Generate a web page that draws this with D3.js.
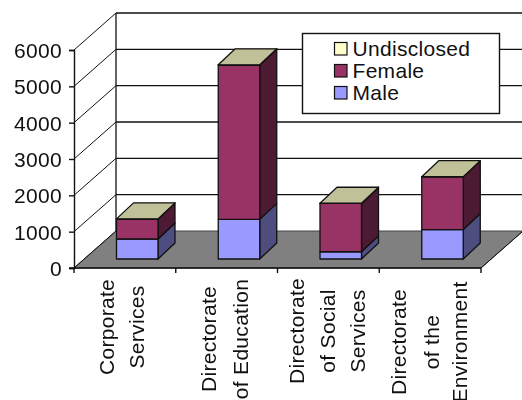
<!DOCTYPE html>
<html>
<head>
<meta charset="utf-8">
<script src="https://cdn.jsdelivr.net/npm/d3@7"></script>
<style>
html,body{margin:0;padding:0;background:#fff;overflow:hidden}
svg{display:block;filter:blur(0.45px)}
text{font-family:"Liberation Sans",Arial,sans-serif;fill:#111;letter-spacing:0.3px}
</style>
</head>
<body>
<svg id="c" width="522" height="400"></svg>
<script>
const categories = ["Corporate Services","Directorate of Education","Directorate of Social Services","Directorate of the Environment"];
const categoryLines = [["Corporate","Services"],["Directorate","of Education"],["Directorate","of Social","Services"],["Directorate","of the","Environment"]];
const maleValues = [550,1090,200,810];
const femaleValues = [550,4250,1330,1450];
const undisclosedValues = [5,5,5,5];
const yTicks = [0,1000,2000,3000,4000,5000,6000];
const legendLabels = ["Undisclosed","Female","Male"];
const seriesColors = {Male:"#9999ff",Female:"#993366",Undisclosed:"#ffffcc"};
const sideColors = {Male:"#4d4d80",Female:"#4d1a33",Undisclosed:"#808066"};
const topColors = {Male:"#7a7acc",Female:"#7a2952",Undisclosed:"#c0c099"};

const svg = d3.select("#c");
const y = d3.scaleLinear().domain([0,6000]).range([268,50]);
const x = d3.scaleBand().domain(categories).range([74,481]);
const wallDx = 42, wallDy = -37;
const barDx = 17, barDy = -16, barInset = 42.5, barW = 41.5, barLift = 9;
const line = "#111";

// floor
const fl = [[74,y(0)],[481,y(0)],[481+wallDx,y(0)+wallDy],[74+wallDx,y(0)+wallDy]];
svg.append("polygon").attr("points",fl.join(" ")).attr("fill","#808080").attr("stroke","#444").attr("stroke-width",1);

// back wall gridlines and side wall diagonals
const grid = svg.append("g").attr("fill","none").attr("stroke",line).attr("stroke-width",1.3);
yTicks.forEach(t=>{
  const yy=y(t);
  if(t>0) grid.append("line").attr("x1",74+wallDx).attr("x2",481+wallDx).attr("y1",yy+wallDy).attr("y2",yy+wallDy);
  grid.append("line").attr("x1",74).attr("y1",yy).attr("x2",74+wallDx).attr("y2",yy+wallDy).attr("stroke-width",1);
});
grid.append("line").attr("x1",74+wallDx).attr("x2",74+wallDx).attr("y1",y(6000)+wallDy).attr("y2",y(0)+wallDy);
grid.append("line").attr("x1",481).attr("y1",y(0)).attr("x2",481+wallDx).attr("y2",y(0)+wallDy).attr("stroke-width",1);

// axes
const yAxis = d3.axisLeft(y).tickValues(yTicks).tickSize(5).tickPadding(7).tickFormat(d3.format("d"));
const gy = svg.append("g").attr("transform","translate(74,0)").call(yAxis);
gy.selectAll("text").style("font-size","21px").attr("dy","0.36em");
gy.selectAll("path,line").attr("stroke",line).attr("stroke-width",1.4);

const xTickPos = d3.range(categories.length+1).map(i=>74+i*x.step());
const gx = svg.append("g").attr("stroke",line).attr("stroke-width",1.4);
gx.append("line").attr("x1",69).attr("x2",481).attr("y1",y(0)).attr("y2",y(0));
xTickPos.forEach(p=>gx.append("line").attr("x1",p).attr("x2",p).attr("y1",y(0)).attr("y2",y(0)+5));

// stacked bars
const keys = ["Male","Female","Undisclosed"];
const rows = categories.map((c,i)=>({cat:c,Male:maleValues[i],Female:femaleValues[i],Undisclosed:undisclosedValues[i]}));
const stacked = d3.stack().keys(keys)(rows);
const bars = svg.append("g").attr("stroke","#111").attr("stroke-width",1.3).attr("stroke-linejoin","round");
stacked.forEach(s=>{
  s.forEach(d=>{
    const c=d.data.cat, x0=x(c)+barInset, x1=x0+barW;
    const y0=y(d[0])-barLift, y1=y(d[1])-barLift;
    bars.append("polygon").attr("points",[[x1,y0],[x1+barDx,y0+barDy],[x1+barDx,y1+barDy],[x1,y1]].join(" ")).attr("fill",sideColors[s.key]);
    bars.append("rect").attr("x",x0).attr("y",y1).attr("width",barW).attr("height",y0-y1).attr("fill",seriesColors[s.key]);
    if(s.key==="Undisclosed"){
      bars.append("polygon").attr("points",[[x0,y1],[x1,y1],[x1+barDx,y1+barDy],[x0+barDx,y1+barDy]].join(" ")).attr("fill",topColors.Undisclosed);
    }
  });
});

// category labels
categories.forEach((c,i)=>{
  const lines=categoryLines[i];
  const cy=[327,339,331,342][i];
  const xs=[[107,137],[209,241],[297,328,358],[399,432,460]][i];
  lines.forEach((t,j)=>{
    svg.append("text").attr("transform",`translate(${xs[j]},${cy}) rotate(-90)`)
      .attr("text-anchor","middle").attr("dy","0.35em").style("font-size","21px").text(t);
  });
});

// legend
const lg = svg.append("g");
lg.append("rect").attr("x",302.5).attr("y",33.5).attr("width",197).attr("height",80).attr("fill","#fff").attr("stroke",line).attr("stroke-width",1.4);
legendLabels.forEach((l,i)=>{
  const yy=[48,70,92][i];
  lg.append("rect").attr("x",334.5).attr("y",yy-5.5).attr("width",12.5).attr("height",12.5).attr("fill",seriesColors[l]).attr("stroke",line).attr("stroke-width",1.2);
  lg.append("text").attr("x",352.5).attr("y",yy).attr("dy","0.36em").style("font-size","21px").text(l);
});
</script>
</body>
</html>
